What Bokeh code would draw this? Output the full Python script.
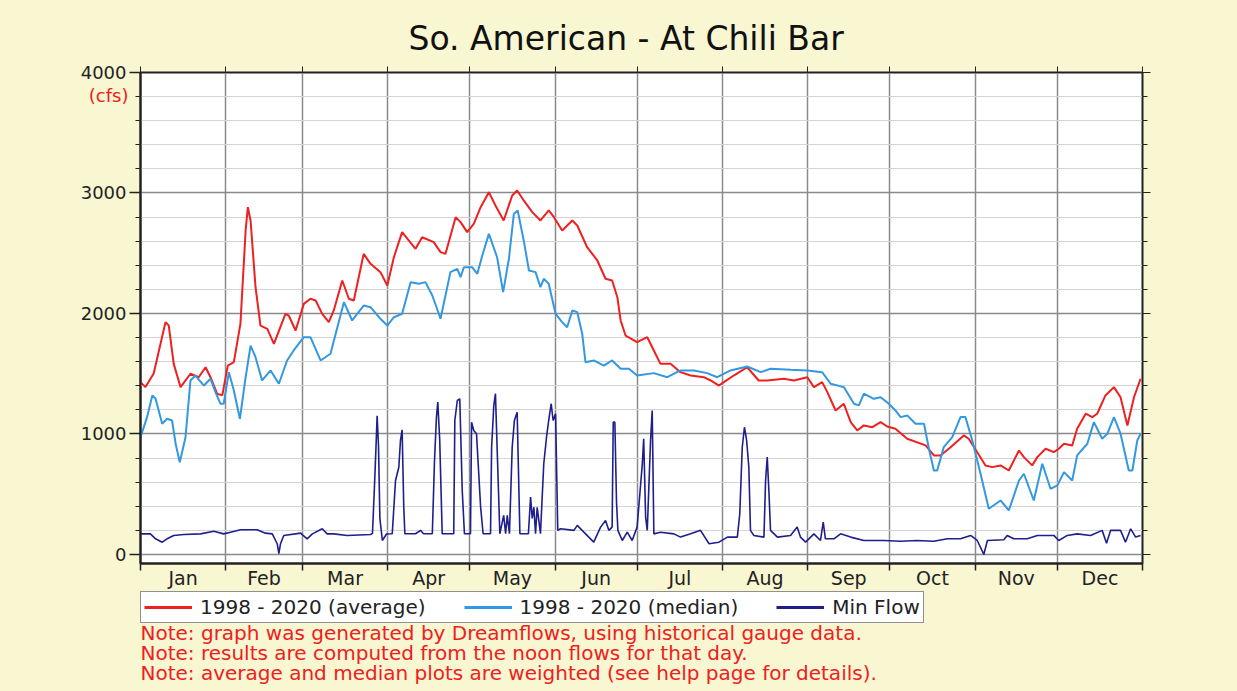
from bokeh.plotting import figure
from bokeh.layouts import column
from bokeh.models import Range1d, FixedTicker, LinearAxis, Legend, LegendItem, Label
from bokeh.embed import file_html
from bokeh.resources import INLINE

# ---------------- data ----------------
months = ["Jan", "Feb", "Mar", "Apr", "May", "Jun", "Jul", "Aug", "Sep", "Oct", "Nov", "Dec"]
month_starts = [0, 31, 59, 90, 120, 151, 181, 212, 243, 273, 304, 334, 365]

avg_day = [0, 1.8, 4.8, 9.1, 10.3, 12.1, 14.6, 18.2, 21.2, 23.7, 25.5, 27.9, 29.8, 31.8, 34.0,
           36.4, 38.3, 39.1, 40.1, 41.9, 43.7, 46.2, 48.6, 52.8, 54.0, 56.5, 59.5, 61.9, 63.8,
           66.2, 68.6, 70.4, 73.5, 75.9, 77.7, 81.3, 83.8, 87.4, 89.9, 92.3, 95.3, 97.7, 100.2,
           102.6, 106.8, 109.3, 111.1, 114.8, 116.6, 119.0, 121.4, 123.9, 126.9, 129.3, 132.3,
           135.4, 137.2, 139.6, 142.7, 145.7, 148.7, 150.6, 153.6, 157.3, 159.1, 162.7, 166.4,
           169.4, 171.8, 173.7, 174.9, 176.7, 180.9, 184.6, 187.0, 189.4, 193.1, 196.7, 200.4,
           205.2, 207.7, 210.7, 212.5, 216.1, 221.0, 225.2, 228.3, 234.4, 238.0, 242.9, 245.3,
           248.3, 250.2, 253.2, 256.2, 258.7, 261.1, 263.5, 266.6, 269.6, 272.0, 275.0, 279.3,
           286.0, 289.0, 291.4, 295.1, 299.9, 301.7, 304.8, 307.8, 310.3, 313.3, 316.3, 320.0,
           321.8, 324.8, 326.7, 329.7, 332.7, 334.5, 336.4, 339.4, 341.2, 344.3, 346.7, 348.5,
           351.5, 354.6, 357.0, 359.5, 361.9, 364.3]
avg_cfs = [1430, 1389, 1502, 1928, 1900, 1582, 1389, 1500, 1471, 1554, 1471, 1334, 1320, 1568, 1596,
           1914, 2689, 2882, 2772, 2218, 1900, 1873, 1748, 1997, 1983, 1859, 2080, 2122, 2108,
           1997, 1928, 2025, 2274, 2122, 2108, 2495, 2412, 2343, 2232, 2467, 2675, 2606, 2537,
           2633, 2592, 2509, 2495, 2799, 2758, 2675, 2744, 2882, 3007, 2896, 2772,
           2979, 3021, 2938, 2841, 2772, 2855, 2799, 2689, 2772, 2730, 2550, 2440,
           2288, 2274, 2135, 1942, 1817, 1762, 1803, 1693, 1582, 1582, 1513, 1485,
           1471, 1444, 1402, 1430, 1485, 1554, 1444, 1444, 1458, 1444, 1471, 1389,
           1430, 1347, 1195, 1251, 1098, 1029, 1071, 1056, 1098, 1062, 1043, 960,
           905, 822, 822, 890, 988, 960, 849, 739, 725, 739, 697, 863,
           808, 739, 808, 877, 849, 877, 919, 905, 1043, 1168, 1140, 1168,
           1320, 1389, 1305, 1071, 1305, 1458]

med_day = [0, 2.4, 4.3, 5.5, 7.9, 9.7, 11.5, 12.8, 14.3, 16.4, 18.2, 20.0, 23.1, 25.5, 27.3,
           29.1, 30.3, 32.2, 34.0, 36.2, 38.3, 40.1, 41.9, 44.3, 47.4, 50.4, 53.4, 55.8, 59.5,
           61.9, 65.6, 69.2, 74.1, 77.1, 81.3, 83.8, 87.4, 89.9, 92.3, 95.3, 98.4, 101.4, 103.8,
           106.3, 109.3, 112.9, 115.4, 116.6, 117.8, 120.8, 122.7, 124.5, 126.9, 129.9, 132.1,
           134.2, 136.0, 137.4, 139.6, 141.5, 143.9, 145.7, 146.9, 148.7, 151.2, 153.6, 155.4,
           157.3, 159.1, 160.9, 162.1, 165.1, 168.8, 171.8, 174.9, 177.9, 180.9, 187.0, 191.9,
           196.7, 201.6, 206.4, 210.1, 214.9, 221.0, 225.9, 229.5, 236.8, 242.9, 248.3, 251.4,
           256.2, 259.9, 261.7, 263.5, 267.1, 269.6, 272.6, 275.0, 276.9, 279.3, 282.3, 285.4,
           287.2, 289.0, 290.2, 292.6, 295.7, 298.7, 300.5, 303.0, 306.0, 309.0, 313.3, 316.3,
           320.0, 321.8, 325.4, 328.5, 331.5, 334.0, 336.4, 339.4, 341.2, 344.9, 347.3, 350.3,
           352.2, 354.6, 357.0, 360.0, 361.3, 363.1, 364.3]
med_cfs = [973, 1140, 1320, 1292, 1085, 1126, 1112, 919, 766, 973, 1444, 1485, 1402, 1458, 1347,
           1251, 1251, 1513, 1361, 1126, 1471, 1734, 1637, 1444, 1527, 1417, 1610, 1693, 1803,
           1803, 1610, 1666, 2094, 1942, 2066, 2052, 1956, 1900, 1969, 1997, 2260, 2246, 2260,
           2149, 1956, 2343, 2371, 2301, 2384, 2384, 2329, 2481, 2661, 2467, 2177,
           2454, 2827, 2855, 2606, 2357, 2343, 2218, 2288, 2246, 1997, 1928, 1886,
           2025, 2011, 1831, 1596, 1610, 1568, 1610, 1541, 1541, 1485, 1505, 1471,
           1527, 1527, 1505, 1471, 1527, 1560, 1513, 1541, 1532, 1527, 1513, 1417,
           1389, 1251, 1237, 1334, 1292, 1305, 1251, 1195, 1140, 1154, 1085, 1085,
           877, 697, 697, 890, 973, 1140, 1140, 946, 670, 379, 448, 365,
           614, 670, 448, 753, 545, 573, 683, 614, 822, 919, 1098, 960,
           1002, 1140, 1002, 697, 697, 946, 1002]

min_day = [0, 3.6, 5.5, 7.9, 9.7, 12.1, 15.8, 21.9, 26.7, 30.3, 32.8, 36.4, 42.5, 45.5, 48.0,
           49.8, 50.4, 51.0, 52.2, 58.3, 60.7, 62.6, 66.2, 68.0, 70.4, 75.3, 83.8, 84.5, 85.2,
           85.8, 86.2, 86.7, 87.2, 88.1, 89.6, 91.7, 92.9, 94.1, 94.7, 95.3, 95.9, 96.3, 100.2,
           102.0, 103.1, 106.3, 107.1, 107.8, 108.3, 109.0, 109.9, 114.1, 114.5, 115.4, 116.3,
           117.2, 118.0, 120.2, 120.6, 121.4, 122.4, 123.9, 124.8, 127.5, 127.9, 128.7, 129.3,
           129.9, 130.9, 132.3, 133.0, 133.6, 134.4, 135.4, 136.2, 137.2, 138.2, 141.3, 142.1,
           142.7, 143.3, 143.9, 144.5, 145.7, 146.9, 147.9, 148.7, 149.6, 150.3, 151.2, 152.0,
           153.0, 157.9, 159.1, 161.5, 165.1, 167.6, 169.4, 170.6, 171.8, 172.2, 172.8, 173.4,
           173.9, 175.5, 177.3, 179.1, 180.9, 182.8, 183.3, 184.0, 184.6, 185.8, 186.4, 187.0,
           189.4, 194.3, 196.7, 200.4, 204.0, 207.1, 210.7, 213.8, 217.4, 218.3, 219.2, 220.0,
           220.8, 221.6, 222.2, 223.4, 227.1, 227.7, 228.3, 228.9, 229.5, 232.0, 236.8, 239.2,
           240.4, 242.3, 245.3, 247.7, 248.7, 249.5, 252.6, 255.0, 258.7, 263.5, 270.8, 276.9,
           282.9, 289.0, 293.9, 298.7, 302.4, 304.8, 307.2, 308.5, 314.5, 315.7, 318.1, 323.0,
           326.7, 332.7, 334.5, 337.6, 341.2, 346.1, 350.3, 351.9, 353.4, 357.0, 358.8, 360.7,
           362.5, 364.3]
min_cfs = [171, 171, 130, 102, 130, 158, 166, 171, 193, 171, 185, 205, 205, 177, 171,
           89, 6, 89, 158, 177, 130, 171, 213, 171, 171, 158, 166, 175, 550,
           900, 1150, 900, 300, 116, 170, 172, 614, 724, 946, 1035, 392, 172, 172,
           200, 172, 172, 780, 1140, 1264, 946, 172, 172, 1112, 1278, 1292,
           531, 172, 172, 1098, 1029, 1002, 392, 172, 172, 890, 1237, 1334,
           890, 172, 324, 172, 324, 172, 890, 1112, 1181, 172, 172, 476,
           300, 392, 172, 392, 172, 753, 973, 1112, 1251, 1112, 1168, 200,
           213, 200, 241, 185, 102, 227, 282, 200, 227, 1098, 1098, 434,
           200, 116, 185, 116, 227, 753, 960, 310, 200, 946, 1195, 171,
           185, 171, 144, 171, 200, 89, 102, 144, 144, 338, 890, 1056,
           946, 724, 200, 158, 144, 614, 808, 531, 200, 144, 158, 227,
           144, 102, 171, 116, 268, 130, 130, 171, 144, 116, 116, 110,
           116, 110, 130, 130, 158, 116, 0, 116, 122, 158, 130, 130,
           158, 158, 116, 158, 171, 158, 200, 94, 200, 200, 102, 213,
           144, 158]

y_major = [0, 1000, 2000, 3000, 4000]
y_minor = list(range(0, 4001, 200))
unit_tick = [3810]
unit_text = "(cfs)"
title_text = "So. American - At Chili Bar"
legend_labels = ["1998 - 2020 (average)", "1998 - 2020 (median)", "Min Flow"]
notes = ["Note: graph was generated by Dreamflows, using historical gauge data.",
         "Note: results are computed from the noon flows for that day.",
         "Note: average and median plots are weighted (see help page for details)."]
note_rows = [41, 61, 81]

# ---------------- styling ----------------
FONT = "DejaVu Sans"
BG = "#f9f6d2"
RED = "#ee2020"
BLUE = "#3398e2"
NAVY = "#1f1f8c"
INK = "#222222"

p = figure(frame_width=1002, frame_height=491, output_backend="svg", toolbar_location=None,
           x_range=Range1d(0, 365), y_range=Range1d(-75, 4000),
           min_border_left=140, min_border_right=95, min_border_top=72, min_border_bottom=20)
p.border_fill_color = BG
p.background_fill_color = "white"
p.outline_line_color = INK
p.outline_line_width = 2

p.line(avg_day, avg_cfs, line_color=RED, line_width=2)
p.line(med_day, med_cfs, line_color=BLUE, line_width=2)
p.line(min_day, min_cfs, line_color=NAVY, line_width=1.6)

mid_months = [(month_starts[i] + month_starts[i + 1]) / 2 for i in range(12)]

# title
p.title.text = title_text
p.title.align = "left"
p.title.offset = 268
p.title.text_font = FONT
p.title.text_font_size = "33px"
p.title.text_font_style = "normal"
p.title.text_color = "#111111"
p.title.standoff = 18

# bottom axis
xa = p.xaxis[0]
xa.ticker = FixedTicker(ticks=mid_months, minor_ticks=month_starts)
xa.major_label_overrides = {m: months[i] for i, m in enumerate(mid_months)}
xa.major_tick_out = 0
xa.major_tick_in = 0
xa.minor_tick_out = 7
xa.minor_tick_in = 0
xa.major_label_standoff = -4
xa.major_label_text_font = FONT
xa.major_label_text_font_size = "19px"
xa.major_label_text_color = INK
xa.axis_line_color = INK
xa.axis_line_width = 2
xa.minor_tick_line_color = INK
xa.minor_tick_line_width = 1.5

# top axis
ta = LinearAxis(ticker=FixedTicker(ticks=month_starts), major_tick_out=6, major_tick_in=0,
                minor_tick_out=0, minor_tick_in=0, major_label_text_font_size="0px",
                major_label_standoff=0, major_label_text_color=None,
                axis_line_color=INK, major_tick_line_color=INK)
p.add_layout(ta, "above")

# left axis
ya = p.yaxis[0]
ya.ticker = FixedTicker(ticks=y_major, minor_ticks=y_minor)
ya.major_tick_out = 11
ya.major_tick_in = 0
ya.minor_tick_out = 5
ya.minor_tick_in = 0
ya.major_label_standoff = 3
ya.major_label_text_font = FONT
ya.major_label_text_font_size = "18px"
ya.major_label_text_color = INK
ya.axis_line_color = INK
ya.axis_line_width = 2
ya.major_tick_line_color = INK
ya.minor_tick_line_color = INK
ya.major_tick_line_width = 1.5
ya.minor_tick_line_width = 1.2

# unit label: a label-only axis stacked outside the value axis, pulled back in
ca = LinearAxis(ticker=FixedTicker(ticks=unit_tick),
                major_label_overrides={unit_tick[0]: unit_text},
                major_label_text_color=RED, major_label_text_font=FONT,
                major_label_text_font_size="18px", major_label_standoff=-51,
                major_tick_out=0, major_tick_in=0, minor_tick_out=0, minor_tick_in=0,
                axis_line_color=None, major_tick_line_color=None, minor_tick_line_color=None)
p.add_layout(ca, "left")

# right axis
ra = LinearAxis(ticker=FixedTicker(ticks=y_major, minor_ticks=y_minor),
                major_tick_out=8, major_tick_in=0, minor_tick_out=5, minor_tick_in=0,
                major_label_text_font_size="0px", major_label_text_color=None,
                axis_line_color=INK, major_tick_line_color=INK, minor_tick_line_color=INK)
p.add_layout(ra, "right")

# grids
p.xgrid.ticker = FixedTicker(ticks=month_starts)
p.xgrid.grid_line_color = "#8a8a8a"
p.xgrid.grid_line_width = 1.5
p.ygrid.ticker = FixedTicker(ticks=y_major, minor_ticks=y_minor)
p.ygrid.grid_line_color = "#8a8a8a"
p.ygrid.grid_line_width = 1.5
p.ygrid.minor_grid_line_color = "#d4d4d4"
p.ygrid.minor_grid_line_width = 1.2

# ---------------- legend + notes strip ----------------
q = figure(frame_width=1097, frame_height=97, output_backend="svg", toolbar_location=None,
           x_range=Range1d(0, 1097), y_range=Range1d(97, 0),
           x_axis_location=None, y_axis_location=None,
           min_border_left=140, min_border_right=0, min_border_top=0, min_border_bottom=0)
q.border_fill_color = BG
q.background_fill_color = BG
q.outline_line_color = None
q.grid.visible = False

# one-point keys (a single point draws no line; they only feed the legend)
k1 = q.line(avg_day[:1], avg_cfs[:1], line_color=RED, line_width=3)
k2 = q.line(med_day[:1], med_cfs[:1], line_color=BLUE, line_width=3)
k3 = q.line(min_day[:1], min_cfs[:1], line_color=NAVY, line_width=3)
legend = Legend(items=[LegendItem(label=legend_labels[0], renderers=[k1]),
                       LegendItem(label=legend_labels[1], renderers=[k2]),
                       LegendItem(label=legend_labels[2], renderers=[k3])],
                orientation="horizontal", location="top_left", margin=0, padding=3,
                spacing=38, glyph_width=48, glyph_height=20, label_standoff=8,
                label_height=20, label_text_font=FONT, label_text_font_size="20px",
                label_text_color=INK, label_text_baseline="middle",
                border_line_color=INK, border_line_width=1.5,
                background_fill_color="white", background_fill_alpha=1)
q.add_layout(legend, "center")

for n, yrow in zip(notes, note_rows):
    q.add_layout(Label(x=0, y=yrow, text=n, text_align="left", text_baseline="middle",
                       text_font=FONT, text_font_size="20px", text_color=RED))

layout = column(p, q, spacing=0)

html = file_html(layout, INLINE)
html = html.replace("<body>", '<body style="background-color:%s">' % BG)
open("out.html", "w").write(html)
